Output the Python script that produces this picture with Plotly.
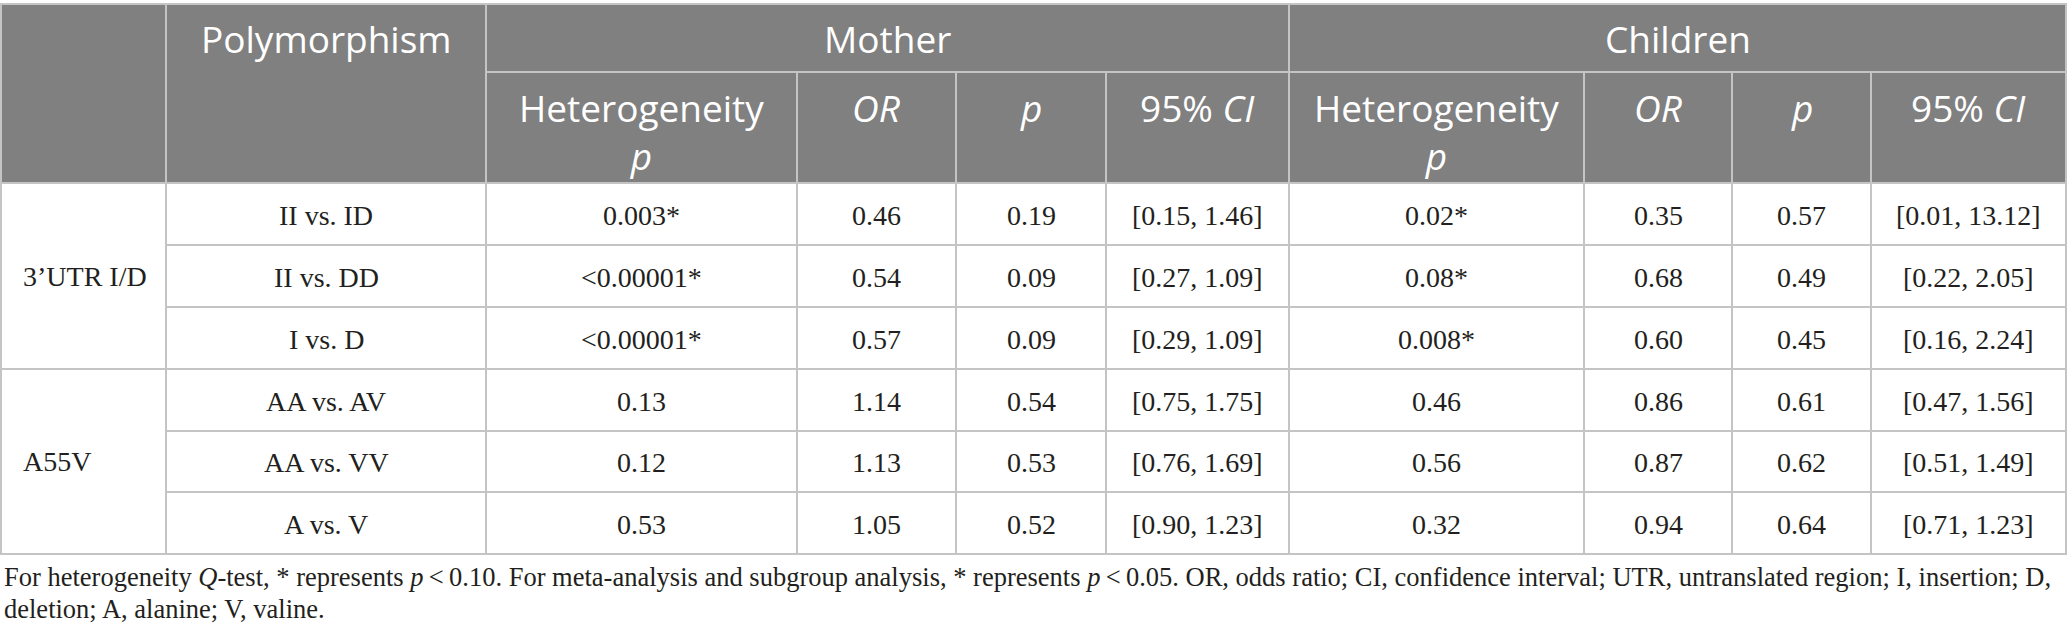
import plotly.graph_objects as go

# table content
groups = ["3\u2019UTR I/D", "A55V"]
group_rows = [3, 3]
comparisons = ["II vs. ID", "II vs. DD", "I vs. D", "AA vs. AV", "AA vs. VV", "A vs. V"]

mother_het = ["0.003*", "<0.00001*", "<0.00001*", "0.13", "0.12", "0.53"]
mother_or = ["0.46", "0.54", "0.57", "1.14", "1.13", "1.05"]
mother_p = ["0.19", "0.09", "0.09", "0.54", "0.53", "0.52"]
mother_ci = ["[0.15, 1.46]", "[0.27, 1.09]", "[0.29, 1.09]", "[0.75, 1.75]", "[0.76, 1.69]", "[0.90, 1.23]"]

children_het = ["0.02*", "0.08*", "0.008*", "0.46", "0.56", "0.32"]
children_or = ["0.35", "0.68", "0.60", "0.86", "0.87", "0.94"]
children_p = ["0.57", "0.49", "0.45", "0.61", "0.62", "0.64"]
children_ci = ["[0.01, 13.12]", "[0.22, 2.05]", "[0.16, 2.24]", "[0.47, 1.56]", "[0.51, 1.49]", "[0.71, 1.23]"]

top_headers = ["Mother", "Children"]
sub_headers = ["Heterogeneity<br><i>p</i>", "<i>OR</i>", "<i>p</i>", "95% <i>CI</i>"]

footnote = [
    "For heterogeneity <i>Q</i>-test, * represents <i>p</i>\u2009<\u20090.10. For meta-analysis and subgroup analysis, "
    "* represents <i>p</i>\u2009<\u20090.05. OR, odds ratio; CI, confidence interval; UTR, untranslated region; I, insertion; D,",
    "deletion; A, alanine; V, valine.",
]

# layout of the grid (pixels)
W, H = 2068, 643
col_x = [1, 166, 486, 797, 956, 1106, 1289, 1584, 1732, 1871, 2066]
row_y = [4, 72, 183, 245, 307, 369, 431, 492, 554]

HEAD_BG = "#7f807f"
GRID = "#c4c4c4"
TXT = "#231f20"
SERIF = "Liberation Serif"
SANS = "Open Sans"
HEAD_SIZE = 37

shapes = []
annotations = []


def rect(x0, y0, x1, y1, fill=None):
    shapes.append(dict(type="rect", xref="x", yref="y", x0=x0, y0=y0, x1=x1, y1=y1,
                       line=dict(color=GRID, width=2),
                       fillcolor=fill if fill else "rgba(0,0,0,0)", layer="below"))


def text(x, y, s, size, color=TXT, family=SERIF, xanchor="center", yanchor="middle"):
    annotations.append(dict(x=x, y=y, xref="x", yref="y", text=s, showarrow=False,
                            xanchor=xanchor, yanchor=yanchor,
                            font=dict(family=family, size=size, color=color)))


# header background
shapes.append(dict(type="rect", xref="x", yref="y", x0=col_x[0], y0=row_y[0], x1=col_x[-1], y1=row_y[2],
                   line=dict(width=0), fillcolor=HEAD_BG, layer="below"))

# header cells
rect(col_x[0], row_y[0], col_x[1], row_y[2])
rect(col_x[1], row_y[0], col_x[2], row_y[2])
text((col_x[1] + col_x[2]) / 2, 38, "Polymorphism", HEAD_SIZE, "white", SANS)
for g, name in enumerate(top_headers):
    c0 = 2 + g * 4
    rect(col_x[c0], row_y[0], col_x[c0 + 4], row_y[1])
    text((col_x[c0] + col_x[c0 + 4]) / 2, 38, name, HEAD_SIZE, "white", SANS)
    for k, label in enumerate(sub_headers):
        c = c0 + k
        rect(col_x[c], row_y[1], col_x[c + 1], row_y[2])
        xc = (col_x[c] + col_x[c + 1]) / 2
        # single-line labels sit on the first line of the two-line one
        text(xc, 80, label, HEAD_SIZE, "white", SANS, yanchor="top")

# body
r = 0
for g, name in enumerate(groups):
    n = group_rows[g]
    y0, y1 = row_y[2 + r], row_y[2 + r + n]
    rect(col_x[0], y0, col_x[1], y1)
    text(col_x[0] + 20, (y0 + y1) / 2, name, 28, xanchor="left")
    r += n

columns = [comparisons, mother_het, mother_or, mother_p, mother_ci,
           children_het, children_or, children_p, children_ci]
for i in range(len(comparisons)):
    y0, y1 = row_y[2 + i], row_y[3 + i]
    for j, col in enumerate(columns):
        c = j + 1
        rect(col_x[c], y0, col_x[c + 1], y1)
        text((col_x[c] + col_x[c + 1]) / 2, (y0 + y1) / 2 + 1, col[i], 28)

# footnote
for k, line in enumerate(footnote):
    text(2, 577 + k * 32, line, 26.5, xanchor="left")

fig = go.Figure()
fig.update_layout(
    width=W, height=H,
    margin=dict(l=0, r=0, t=0, b=0),
    paper_bgcolor="white", plot_bgcolor="white",
    xaxis=dict(range=[0, W], visible=False, fixedrange=True),
    yaxis=dict(range=[H, 0], visible=False, fixedrange=True),
    shapes=shapes, annotations=annotations, showlegend=False,
)
fig.write_html("out.html", config={"displayModeBar": False},
               post_script="document.body.style.margin='0';")
